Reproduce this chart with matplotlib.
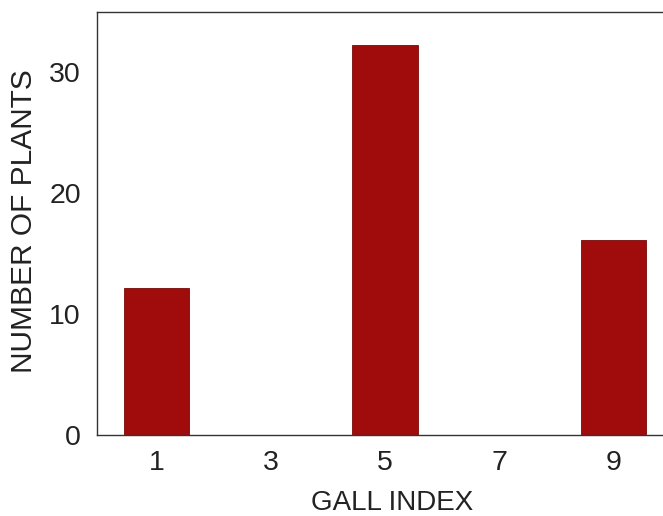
import matplotlib
matplotlib.use('Agg')
import matplotlib.pyplot as plt

plt.rcParams['font.family'] = ['Liberation Sans', 'DejaVu Sans']

gall_index = [1, 3, 5, 7, 9]
num_plants = [12.2, 0, 32.3, 0, 16.1]
yticks = [0, 10, 20, 30]

fig = plt.figure(figsize=(6.63, 5.16), dpi=100)
ax = fig.add_axes([0.146, 0.157, 0.854, 0.82])

ax.bar(gall_index, num_plants, width=1.14, color='#a00c0c', edgecolor='#7a0808', linewidth=0.6)

ax.set_xlim(-0.04, 9.86)
ax.set_ylim(0, 35)
ax.set_xticks(gall_index)
ax.set_yticks(yticks)
ax.tick_params(axis='x', length=0, pad=11, labelsize=20.5, colors='#222222')
ax.tick_params(axis='y', length=0, pad=11.5, labelsize=20.5, colors='#222222')

for s in ['left', 'top', 'bottom']:
    ax.spines[s].set_color('#333333')
    ax.spines[s].set_linewidth(1.0)
ax.spines['right'].set_visible(False)

ax.set_xlabel('GALL INDEX', fontsize=20, color='#222222')
ax.set_ylabel('NUMBER OF PLANTS', fontsize=21.5, color='#222222')
ax.xaxis.set_label_coords(0.522, -0.13)
ax.yaxis.set_label_coords(-0.104, 0.505)

fig.savefig('out.png', dpi=100)
